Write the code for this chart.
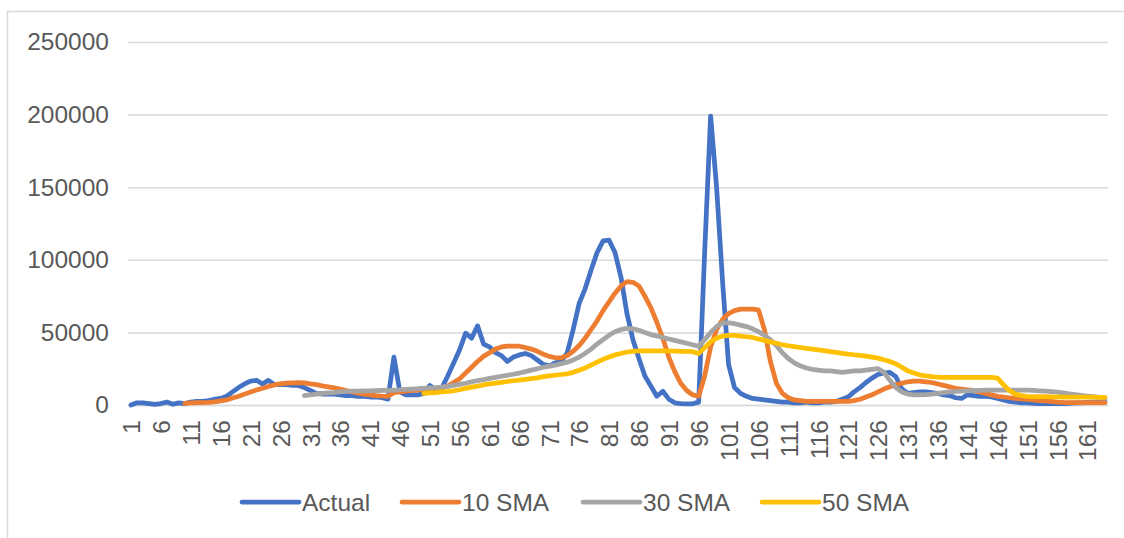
<!DOCTYPE html>
<html>
<head>
<meta charset="utf-8">
<script src="https://cdn.jsdelivr.net/npm/d3@7"></script>
<style>
  body { margin: 0; background: #fff; }
  svg { display: block; font-family: 'Liberation Sans', Arial, sans-serif; }
</style>
</head>
<body>
<div id="chart-area"></div>
<script>
// categories are just the row numbers 1..164
const categories = d3.range(1, 165);
const tickLabels = ['1', '6', '11', '16', '21', '26', '31', '36', '41', '46', '51', '56', '61', '66', '71', '76',
  '81', '86', '91', '96', '101', '106', '111', '116', '121', '126', '131', '136', '141', '146', '151', '156', '161'];
const yTicks = [0, 50000, 100000, 150000, 200000, 250000];

const actual = [
  0, 1500, 1500, 1000, 500, 1000, 2000, 500, 1500, 1000,
  2000, 2500, 2500, 3000, 4000, 4500, 6000, 9000, 12000, 14500,
  16500, 17000, 14500, 17000, 14000, 14000, 14000, 13500, 13500, 12000,
  10000, 8000, 7500, 7500, 7500, 7000, 6500, 6500, 6000, 6000,
  5500, 5500, 5000, 4000, 33000, 9000, 7000, 7000, 7000, 8000,
  13500, 10500, 11500, 20000, 29000, 38000, 49500, 46000, 54500, 42000,
  40000, 36000, 34000, 30000, 33000, 34500, 35500, 34000, 31000, 28000,
  27000, 29000, 30000, 36000, 52000, 70000, 80000, 93000, 105000, 113000,
  113500, 105000, 88000, 63000, 45000, 32000, 20000, 13000, 6000, 9500,
  4000, 1500, 1000, 800, 800, 2000, 105000, 199000, 150000, 85000,
  28000, 12000, 8000, 6000, 4500, 4000, 3500, 3000, 2500, 2000,
  2000, 1500, 1500, 2000, 1500, 1500, 2000, 2000, 2500, 4000,
  5500, 9000, 12000, 15500, 18500, 21000, 22000, 22500, 19500, 11000,
  8000, 8500, 9000, 9000, 8500, 8000, 7000, 6500, 5000, 4500,
  7000, 6500, 6000, 6000, 5500, 4500, 3500, 2500, 2000, 1500,
  1500, 1200, 1000, 1000, 1000, 1000, 1000, 1200, 1500, 1500,
  1800, 2000, 2000, 2200
];

// moving averages start later, first value belongs to the category given by *Start
const sma10Start = 10;
const sma10 = [
  1200,
  1500, 1600, 1700, 1800, 2200, 2800, 3500, 4800, 6000, 7500,
  9000, 10300, 11500, 12800, 13800, 14500, 15000, 15300, 15400, 15200,
  14500, 14000, 13200, 12500, 11800, 11000, 10000, 9000, 8200, 7500,
  7000, 6500, 6200, 6000, 8500, 9000, 9500, 10000, 10200, 10500,
  11000, 11200, 11800, 13000, 15500, 18000, 22000, 26000, 30000, 33500,
  36000, 38500, 40000, 40500, 40500, 40500, 39500, 38500, 37000, 35000,
  33500, 32500, 32500, 34000, 37000, 41000, 46000, 52000, 58000, 65000,
  71000, 77000, 82000, 85000, 84500, 82000, 75000, 67000, 57000, 46000,
  33000, 23000, 15000, 10000, 7000, 6000, 20000, 40000, 52000, 59000,
  63000, 65000, 66000, 66000, 66000, 65500, 52000, 30000, 15000, 8000,
  5000, 3500, 3000, 2500, 2500, 2500, 2500, 2500, 2500, 2500,
  2500, 3000, 4000, 5500, 7000, 9000, 11000, 12500, 14000, 15000,
  16000, 16500, 16500, 16000, 15500, 14500, 13500, 12500, 11500, 11000,
  10500, 10000, 9000, 8000, 7000, 6000, 5500, 5000, 4500, 4200,
  3800, 3500, 3000, 2800, 2500, 2000, 1800, 1700, 1600, 1600,
  1600, 1600, 1600, 1600
];

const sma30Start = 30;
const sma30 = [
  6500,
  7000, 7500, 8000, 8300, 8600, 9000, 9300, 9500, 9600, 9700,
  9800, 9900, 10000, 10000, 10300, 10500, 10800, 11000, 11200, 11500,
  11800, 12000, 12300, 12800, 13500, 14200, 15000, 16000, 16800, 17500,
  18300, 19000, 19800, 20500, 21200, 22000, 23000, 24000, 25000, 26000,
  26800, 27500, 28500, 29500, 31000, 33000, 35500, 38500, 42000, 45000,
  48000, 50500, 52000, 52800, 52500, 51500, 50000, 48500, 47500, 46500,
  45500, 44500, 43500, 42500, 41500, 40500, 45000, 50000, 54000, 56500,
  56500, 56000, 55000, 54000, 52500, 50500, 48000, 45000, 41000, 36000,
  32000, 29000, 27000, 25500, 24500, 24000, 23500, 23500, 23000, 22500,
  23000, 23500, 23500, 24000, 24500, 25000, 22500, 17000, 12000, 9000,
  7500, 7000, 7000, 7200, 7500, 8000, 8500, 9000, 9300, 9600,
  9800, 10000, 10000, 10200, 10300, 10300, 10300, 10300, 10300, 10300,
  10200, 10000, 9800, 9500, 9200, 8800, 8300, 7700, 7200, 6700,
  6200, 5700, 5200, 4500
];

const sma50Start = 50;
const sma50 = [
  8000,
  8300, 8600, 9000, 9300, 9800, 10500, 11500, 12300, 13000, 13800,
  14500, 15000, 15600, 16200, 16700, 17200, 17700, 18200, 18700, 19500,
  20000, 20500, 21000, 21500, 22500, 24000, 25500, 27500, 29500, 31500,
  33000, 34500, 35500, 36500, 37000, 37200, 37200, 37200, 37200, 37200,
  37200, 37100, 37000, 36900, 36700, 35500, 39500, 43500, 46000, 47500,
  48000, 48000, 47500, 47000, 46500, 45500, 44500, 43500, 42500, 41500,
  40800, 40200, 39600, 39000, 38500, 38000, 37400, 36800, 36200, 35600,
  35100, 34600, 34200, 33700, 33000, 32300, 31200, 30000, 28300, 26000,
  23500, 22000, 20800, 20000, 19500, 19200, 19000, 19000, 19000, 19000,
  19000, 19000, 19000, 19000, 19000, 18500, 14000, 10000, 7500, 6500,
  6000, 5800, 5700, 5700, 5600, 5600, 5500, 5500, 5500, 5400,
  5400, 5400, 5300, 5300
];

const seriesNames = ['Actual', '10 SMA', '30 SMA', '50 SMA'];
const seriesColors = ['#4472C4', '#ED7D31', '#A5A5A5', '#FFC000'];

LineChart = function(_parentElement) {
  this.parentElement = _parentElement;

  this.initVis();
};

LineChart.prototype.initVis = function() {
  let vis = this;

  vis.margin = { left: 128, right: 16, top: 42, bottom: 133 };
  vis.outerWidth = 1124;
  vis.outerHeight = 538;
  vis.width = vis.outerWidth - vis.margin.left - vis.margin.right;
  vis.height = vis.outerHeight - vis.margin.top - vis.margin.bottom;

  vis.svg = d3
    .select(vis.parentElement)
    .append('svg')
    .attr('width', vis.outerWidth)
    .attr('height', vis.outerHeight);

  // chart frame (only top and left edges are in the crop)
  vis.svg
    .append('path')
    .attr('d', 'M7.5,538V11.5H1124')
    .attr('fill', 'none')
    .attr('stroke', '#d9d9d9')
    .attr('stroke-width', 1.5);

  vis.g = vis.svg
    .append('g')
    .attr('transform', 'translate(' + vis.margin.left + ', ' + vis.margin.top + ')');

  // Scales
  vis.x = d3
    .scalePoint()
    .domain(categories)
    .range([0, vis.width])
    .padding(0.5);
  vis.y = d3
    .scaleLinear()
    .domain([0, 250000])
    .range([vis.height, 0]);

  vis.wrangleData();
};

LineChart.prototype.wrangleData = function() {
  let vis = this;

  const offset = (values, start) => values.map((v, i) => ({ cat: start + i, value: v }));

  vis.data = [
    offset(actual, 1),
    offset(sma10, sma10Start),
    offset(sma30, sma30Start),
    offset(sma50, sma50Start)
  ];

  vis.updateVis();
};

LineChart.prototype.updateVis = function() {
  let vis = this;

  // Gridlines
  vis.yAxisCall = d3
    .axisLeft(vis.y)
    .tickValues(yTicks)
    .tickSize(-vis.width)
    .tickPadding(19)
    .tickFormat(d3.format('d'));
  vis.yAxis = vis.g
    .append('g')
    .attr('class', 'y axis')
    .call(vis.yAxisCall);
  vis.yAxis.select('.domain').remove();
  vis.yAxis
    .selectAll('line')
    .attr('stroke', '#d9d9d9')
    .attr('stroke-width', 1.5);
  vis.yAxis
    .selectAll('text')
    .attr('fill', '#595959')
    .attr('font-size', '24.5px');

  // X-axis with rotated category labels
  vis.xAxisCall = d3
    .axisBottom(vis.x)
    .tickValues(tickLabels.map(Number))
    .tickSize(0);
  vis.xAxis = vis.g
    .append('g')
    .attr('class', 'x axis')
    .attr('transform', 'translate(0,' + vis.height + ')')
    .call(vis.xAxisCall);
  vis.xAxis.select('.domain').attr('stroke', '#d9d9d9').attr('stroke-width', 1.5);
  vis.xAxis
    .selectAll('text')
    .attr('fill', '#595959')
    .attr('font-size', '24.5px')
    .attr('text-anchor', 'end')
    .attr('transform', 'rotate(-90)')
    .attr('x', -15)
    .attr('y', 0)
    .attr('dy', '0.36em');

  // Path generator
  const line = d3
    .line()
    .x(d => vis.x(d.cat))
    .y(d => vis.y(d.value));

  vis.g
    .selectAll('.series')
    .data(vis.data)
    .enter()
    .append('path')
    .attr('class', 'series')
    .attr('fill', 'none')
    .attr('stroke', (d, i) => seriesColors[i])
    .attr('stroke-width', 4.75)
    .attr('stroke-linejoin', 'round')
    .attr('stroke-linecap', 'round')
    .attr('d', line);

  // Legend
  const legendX = [242, 402, 583, 762];
  const legend = vis.svg
    .append('g')
    .attr('class', 'legend')
    .attr('transform', 'translate(0, 502)');
  const items = legend
    .selectAll('g')
    .data(seriesNames)
    .enter()
    .append('g')
    .attr('transform', (d, i) => 'translate(' + legendX[i] + ', 0)');
  items
    .append('line')
    .attr('x1', 0)
    .attr('x2', 57)
    .attr('stroke', (d, i) => seriesColors[i])
    .attr('stroke-width', 4.75)
    .attr('stroke-linecap', 'round');
  items
    .append('text')
    .attr('x', 60)
    .attr('dy', '0.36em')
    .attr('fill', '#595959')
    .attr('font-size', '24.5px')
    .text(d => d);
};

new LineChart('#chart-area');
</script>
</body>
</html>
